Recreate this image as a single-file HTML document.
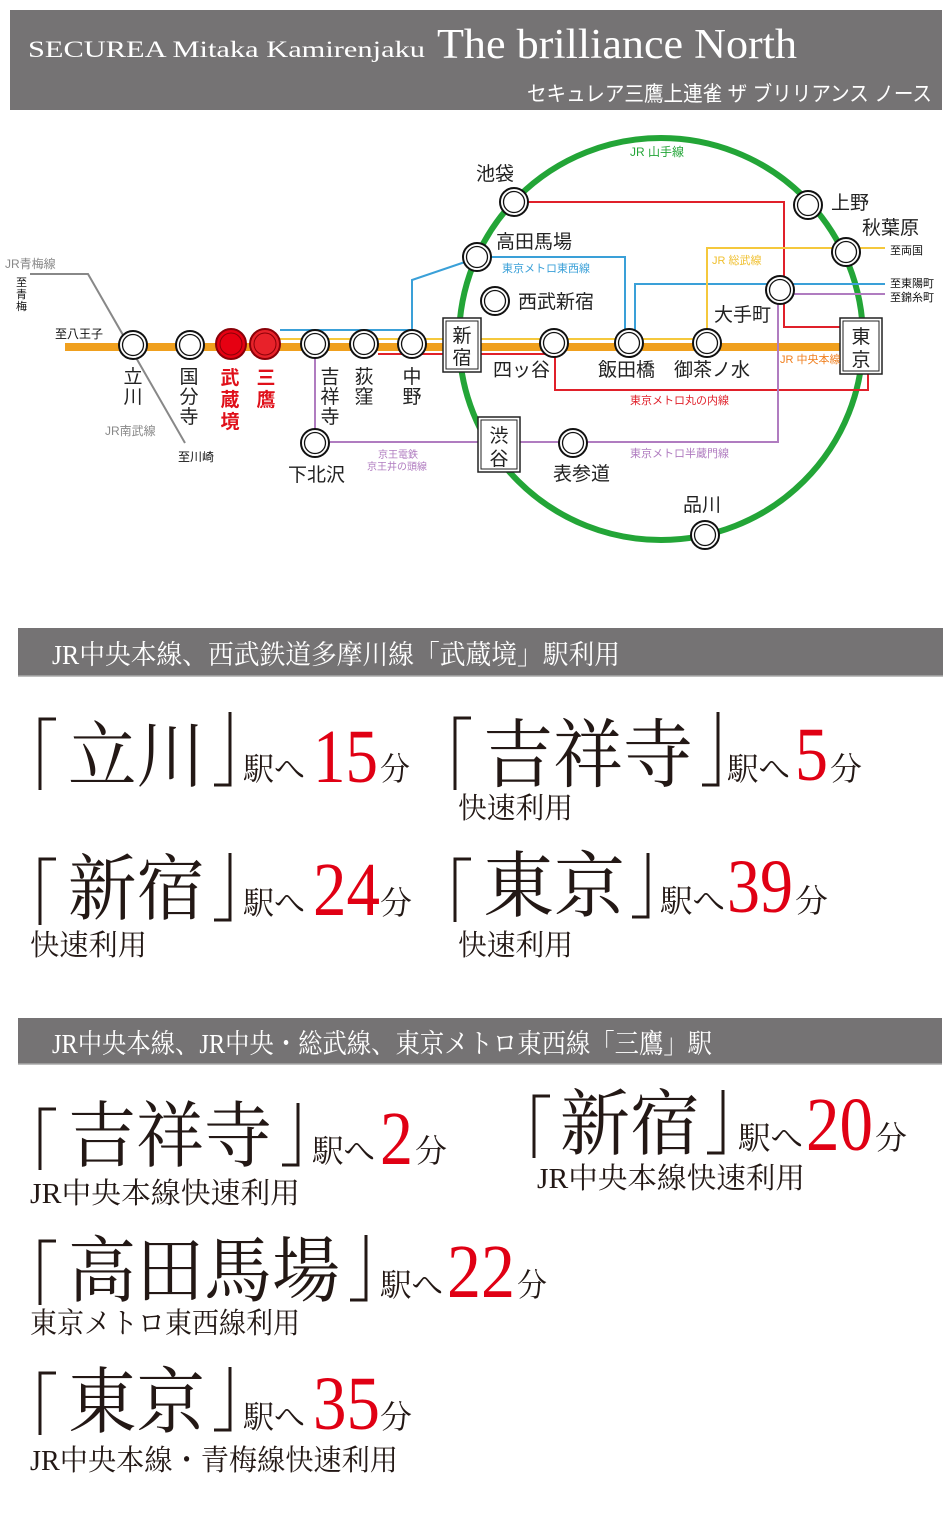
<!DOCTYPE html>
<html><head><meta charset="utf-8"><style>
html,body{margin:0;padding:0;background:#fff;}
svg{display:block;}
.s{font-family:"Liberation Sans","Noto Sans CJK JP",sans-serif;}
.m{font-family:"Liberation Serif","Noto Serif CJK SC",serif;}
.st{font-family:"Liberation Sans","Noto Sans CJK JP",sans-serif;font-size:19px;fill:#222;}
</style></head><body>
<svg width="950" height="1516" viewBox="0 0 950 1516" xmlns="http://www.w3.org/2000/svg">
<defs>
<g id="stn"><circle r="14" fill="#fff" stroke="#111" stroke-width="2"/><circle r="10.5" fill="none" stroke="#111" stroke-width="1.3"/></g>
</defs>
<!-- header -->
<rect x="10" y="10" width="932" height="100" fill="#757374"/>
<text x="28" y="57" class="m" font-size="23" fill="#fff" textLength="397" lengthAdjust="spacingAndGlyphs">SECUREA Mitaka Kamirenjaku</text>
<text x="437" y="58" class="m" font-size="42" fill="#fff" textLength="360" lengthAdjust="spacingAndGlyphs">The brilliance North</text>
<text x="527" y="101" class="s" font-size="21" fill="#fff" textLength="405" lengthAdjust="spacingAndGlyphs">セキュレア三鷹上連雀 ザ ブリリアンス ノース</text>

<!-- map -->
<g fill="none">
<ellipse cx="661" cy="339" rx="202" ry="201" stroke="#23a537" stroke-width="6"/>
<polyline points="30,274 88,274 185,443" stroke="#888" stroke-width="2"/>
<line x1="65" y1="347" x2="842" y2="347" stroke="#f0a01e" stroke-width="8"/>
<line x1="280" y1="339" x2="707" y2="339" stroke="#f5c83c" stroke-width="2"/>
<polyline points="280,330 412,330 412,280 465,262" stroke="#3aa0d8" stroke-width="2"/>
<line x1="378" y1="354" x2="554" y2="354" stroke="#e0202a" stroke-width="2"/>
<polyline points="528,202 784,202 784,327 842,327" stroke="#e0202a" stroke-width="2"/>
<polyline points="555,355 555,390 868,390 868,372" stroke="#e0202a" stroke-width="2"/>
<polyline points="490,257 625,257 625,332" stroke="#3aa0d8" stroke-width="2"/>
<polyline points="635,332 635,284 885,284" stroke="#3aa0d8" stroke-width="2"/>
<polyline points="707,332 707,248 885,248" stroke="#f5c83c" stroke-width="2"/>
<polyline points="778,300 778,442 330,442" stroke="#b07cc0" stroke-width="2"/>
<line x1="790" y1="294" x2="885" y2="294" stroke="#b07cc0" stroke-width="2"/>
<line x1="315" y1="355" x2="315" y2="432" stroke="#b07cc0" stroke-width="2"/>
</g>
<use href="#stn" x="133" y="345"/><use href="#stn" x="190" y="345"/>
<circle cx="231" cy="344" r="15" fill="#e60012" stroke="#8a0008" stroke-width="2"/><circle cx="231" cy="344" r="11" fill="none" stroke="#8a0008" stroke-width="1"/>
<circle cx="265" cy="344" r="15" fill="#e8222a" stroke="#8a0008" stroke-width="2"/><circle cx="265" cy="344" r="11" fill="none" stroke="#8a0008" stroke-width="1"/>
<use href="#stn" x="315" y="344"/><use href="#stn" x="364" y="344"/><use href="#stn" x="412" y="344"/>
<use href="#stn" x="315" y="443"/>
<use href="#stn" x="514" y="202"/><use href="#stn" x="808" y="205"/><use href="#stn" x="846" y="252"/>
<use href="#stn" x="477" y="257"/><use href="#stn" x="495" y="301"/><use href="#stn" x="780" y="290"/>
<use href="#stn" x="554" y="343"/><use href="#stn" x="629" y="343"/><use href="#stn" x="707" y="343"/>
<use href="#stn" x="573" y="443"/><use href="#stn" x="705" y="535"/>
<g fill="#fff" stroke="#222">
<rect x="443" y="318" width="38" height="54" stroke-width="1.5"/><rect x="446" y="321" width="32" height="48" stroke-width="1"/>
<rect x="840" y="318" width="42" height="56" stroke-width="1.5"/><rect x="843" y="321" width="36" height="50" stroke-width="1"/>
<rect x="478" y="417" width="42" height="55" stroke-width="1.5"/><rect x="481" y="420" width="36" height="49" stroke-width="1"/>
</g>
<g class="st" text-anchor="middle" font-size="20">
<text x="462" y="342">新</text><text x="462" y="364">宿</text>
<text x="861" y="343">東</text><text x="861" y="366">京</text>
<text x="499" y="442">渋</text><text x="499" y="465">谷</text>
</g>
<g class="st" text-anchor="middle" font-size="20">
<text x="133" y="383">立</text><text x="133" y="403">川</text>
<text x="189" y="383">国</text><text x="189" y="403">分</text><text x="189" y="423">寺</text>
<text x="330" y="383">吉</text><text x="330" y="403">祥</text><text x="330" y="423">寺</text>
<text x="364" y="383">荻</text><text x="364" y="403">窪</text>
<text x="412" y="383">中</text><text x="412" y="403">野</text>
</g>
<g class="st" text-anchor="middle" font-size="21" font-weight="bold" style="fill:#e0101a">
<text x="230" y="384">武</text><text x="230" y="406">蔵</text><text x="230" y="428">境</text>
<text x="266" y="384">三</text><text x="266" y="406">鷹</text>
</g>
<g class="st">
<text x="288" y="481">下北沢</text>
<text x="476" y="180">池袋</text>
<text x="496" y="248">高田馬場</text>
<text x="518" y="308">西武新宿</text>
<text x="831" y="209">上野</text>
<text x="862" y="234">秋葉原</text>
<text x="714" y="321">大手町</text>
<text x="493" y="376">四ッ谷</text>
<text x="598" y="376">飯田橋</text>
<text x="674" y="376">御茶ノ水</text>
<text x="553" y="480">表参道</text>
<text x="683" y="511">品川</text>
</g>
<g class="s" font-size="12">
<text x="5" y="268" fill="#888">JR青梅線</text>
<text x="105" y="435" fill="#888">JR南武線</text>
<text x="55" y="338" fill="#111">至八王子</text>
<text x="178" y="461" fill="#111">至川崎</text>
<text x="16" y="286" fill="#111" font-size="11">至</text><text x="16" y="298" fill="#111" font-size="11">青</text><text x="16" y="310" fill="#111" font-size="11">梅</text>
<text x="630" y="156" fill="#23a537">JR 山手線</text>
<text x="502" y="272" fill="#3aa0d8" font-size="11">東京メトロ東西線</text>
<text x="712" y="264" fill="#f0c030" font-size="11">JR 総武線</text>
<text x="780" y="363" fill="#f08020" font-size="11">JR 中央本線</text>
<text x="630" y="404" fill="#e0202a" font-size="11">東京メトロ丸の内線</text>
<text x="630" y="457" fill="#b07cc0" font-size="11">東京メトロ半蔵門線</text>
<text x="378" y="458" fill="#b07cc0" font-size="10">京王電鉄</text>
<text x="367" y="470" fill="#b07cc0" font-size="10">京王井の頭線</text>
<text x="890" y="254" fill="#111" font-size="11">至両国</text>
<text x="890" y="287" fill="#111" font-size="11">至東陽町</text>
<text x="890" y="301" fill="#111" font-size="11">至錦糸町</text>
</g>

<!-- section 1 -->
<rect x="18" y="628" width="925" height="48" fill="#757374"/>
<line x1="18" y1="676" x2="943" y2="676" stroke="#aaa" stroke-width="1.5"/>
<text x="52" y="664" class="m" font-size="27" fill="#fff" textLength="568" lengthAdjust="spacingAndGlyphs">JR中央本線、西武鉄道多摩川線「武蔵境」駅利用</text>

<!-- brackets -->
<g fill="none" stroke="#231815" stroke-width="3">
<path d="M56 719 H40 V790 M230 712 V785 H214"/>
<path d="M471 718 H455 V790 M718 712 V785 H702"/>
<path d="M56 859 H40 V925 M230 853 V920 H214"/>
<path d="M471 859 H455 V922 M648 853 V917 H632"/>
<path d="M56 1109 H40 V1170 M298 1103 V1165 H282"/>
<path d="M550 1096 H534 V1158 M723 1090 V1153 H707"/>
<path d="M56 1241 H40 V1305 M366 1235 V1300 H350"/>
<path d="M56 1373 H40 V1435 M230 1367 V1430 H214"/>
</g>

<g class="m" fill="#231815">
<text x="68" y="781" font-size="72" textLength="137" lengthAdjust="spacingAndGlyphs">立川</text>
<text x="243" y="780" font-size="32" textLength="62" lengthAdjust="spacingAndGlyphs">駅へ</text>
<text x="313" y="782" font-size="76" fill="#e00014" textLength="65" lengthAdjust="spacingAndGlyphs">15</text>
<text x="380" y="780" font-size="32" textLength="30" lengthAdjust="spacingAndGlyphs">分</text>

<text x="483" y="781" font-size="75" textLength="210" lengthAdjust="spacingAndGlyphs">吉祥寺</text>
<text x="727" y="780" font-size="32" textLength="63" lengthAdjust="spacingAndGlyphs">駅へ</text>
<text x="795" y="780" font-size="76" fill="#e00014" textLength="33" lengthAdjust="spacingAndGlyphs">5</text>
<text x="830" y="780" font-size="32" textLength="32" lengthAdjust="spacingAndGlyphs">分</text>
<text x="458" y="818" font-size="29" textLength="115" lengthAdjust="spacingAndGlyphs">快速利用</text>

<text x="68" y="914" font-size="72" textLength="137" lengthAdjust="spacingAndGlyphs">新宿</text>
<text x="243" y="914" font-size="32" textLength="62" lengthAdjust="spacingAndGlyphs">駅へ</text>
<text x="313" y="915" font-size="76" fill="#e00014" textLength="67" lengthAdjust="spacingAndGlyphs">24</text>
<text x="380" y="914" font-size="32" textLength="32" lengthAdjust="spacingAndGlyphs">分</text>
<text x="30" y="955" font-size="29" textLength="117" lengthAdjust="spacingAndGlyphs">快速利用</text>

<text x="483" y="911" font-size="72" textLength="142" lengthAdjust="spacingAndGlyphs">東京</text>
<text x="660" y="912" font-size="32" textLength="65" lengthAdjust="spacingAndGlyphs">駅へ</text>
<text x="727" y="912" font-size="76" fill="#e00014" textLength="66" lengthAdjust="spacingAndGlyphs">39</text>
<text x="795" y="912" font-size="32" textLength="33" lengthAdjust="spacingAndGlyphs">分</text>
<text x="458" y="955" font-size="29" textLength="115" lengthAdjust="spacingAndGlyphs">快速利用</text>
</g>

<!-- section 2 -->
<rect x="18" y="1018" width="924" height="46" fill="#757374"/>
<line x1="18" y1="1064" x2="942" y2="1064" stroke="#aaa" stroke-width="1.5"/>
<text x="52" y="1053" class="m" font-size="27" fill="#fff" textLength="660" lengthAdjust="spacingAndGlyphs">JR中央本線、JR中央・総武線、東京メトロ東西線「三鷹」駅</text>

<g class="m" fill="#231815">
<text x="68" y="1161" font-size="72" textLength="204" lengthAdjust="spacingAndGlyphs">吉祥寺</text>
<text x="312" y="1162" font-size="32" textLength="63" lengthAdjust="spacingAndGlyphs">駅へ</text>
<text x="380" y="1164" font-size="76" fill="#e00014" textLength="33" lengthAdjust="spacingAndGlyphs">2</text>
<text x="415" y="1162" font-size="32" textLength="32" lengthAdjust="spacingAndGlyphs">分</text>
<text x="30" y="1203" font-size="29" textLength="270" lengthAdjust="spacingAndGlyphs">JR中央本線快速利用</text>

<text x="560" y="1149" font-size="72" textLength="140" lengthAdjust="spacingAndGlyphs">新宿</text>
<text x="738" y="1149" font-size="32" textLength="65" lengthAdjust="spacingAndGlyphs">駅へ</text>
<text x="806" y="1150" font-size="76" fill="#e00014" textLength="67" lengthAdjust="spacingAndGlyphs">20</text>
<text x="875" y="1149" font-size="32" textLength="32" lengthAdjust="spacingAndGlyphs">分</text>
<text x="537" y="1188" font-size="29" textLength="268" lengthAdjust="spacingAndGlyphs">JR中央本線快速利用</text>

<text x="68" y="1296" font-size="72" textLength="272" lengthAdjust="spacingAndGlyphs">高田馬場</text>
<text x="380" y="1296" font-size="32" textLength="63" lengthAdjust="spacingAndGlyphs">駅へ</text>
<text x="447" y="1297" font-size="76" fill="#e00014" textLength="68" lengthAdjust="spacingAndGlyphs">22</text>
<text x="517" y="1296" font-size="32" textLength="30" lengthAdjust="spacingAndGlyphs">分</text>
<text x="30" y="1333" font-size="29" textLength="270" lengthAdjust="spacingAndGlyphs">東京メトロ東西線利用</text>

<text x="68" y="1427" font-size="72" textLength="137" lengthAdjust="spacingAndGlyphs">東京</text>
<text x="243" y="1428" font-size="32" textLength="62" lengthAdjust="spacingAndGlyphs">駅へ</text>
<text x="313" y="1429" font-size="76" fill="#e00014" textLength="67" lengthAdjust="spacingAndGlyphs">35</text>
<text x="380" y="1428" font-size="32" textLength="32" lengthAdjust="spacingAndGlyphs">分</text>
<text x="30" y="1470" font-size="29" textLength="368" lengthAdjust="spacingAndGlyphs">JR中央本線・青梅線快速利用</text>
</g>
</svg>
</body></html>
